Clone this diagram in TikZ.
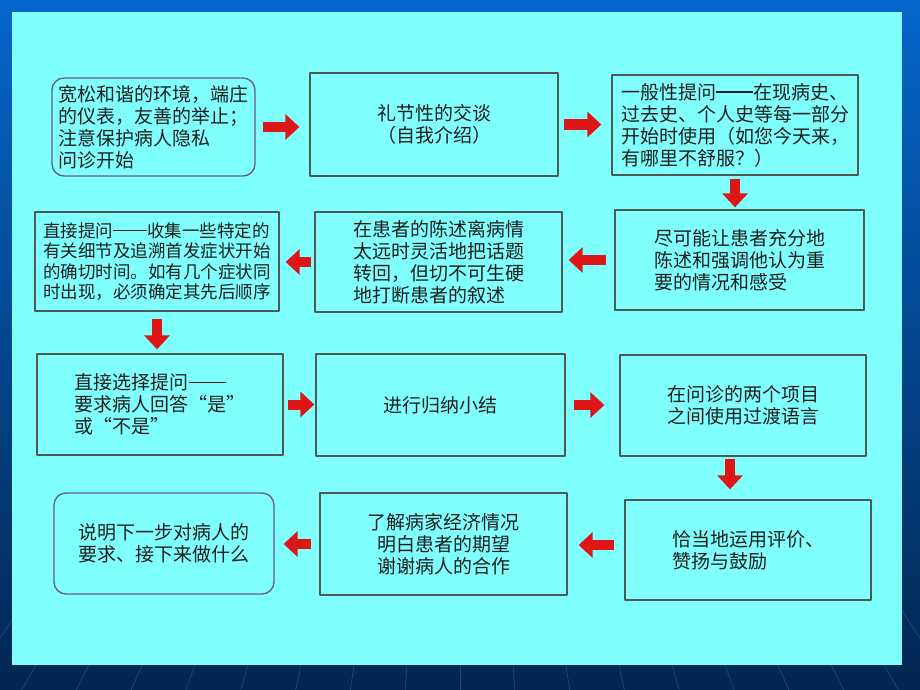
\documentclass[tikz,border=0pt]{standalone}
\usepackage{fontspec}
\setmainfont{Noto Sans CJK SC}
\usetikzlibrary{arrows.meta}

\definecolor{panel}{RGB}{128,255,255}
\definecolor{bgtop}{RGB}{6,102,204}
\definecolor{bgbot}{RGB}{2,38,80}
\definecolor{bgline}{RGB}{22,72,132}
\definecolor{arrred}{RGB}{222,22,22}
\definecolor{edge}{RGB}{78,88,84}
\definecolor{roundedge}{RGB}{104,88,150}
\definecolor{ink}{RGB}{30,30,30}

\newcommand{\twodash}{\rule[0.33em]{1.95em}{0.07em}}

\tikzset{
  box/.style={draw=edge, line width=1.3pt, fill=panel, text=ink, align=left,
    inner sep=2pt, font=\fontsize{19}{22}\selectfont},
  roundbox/.style={box, draw=roundedge, rounded corners=12pt},
  arr/.style={draw=arrred, line width=10pt,
    -{Triangle[width=25pt,length=14pt]}}
}

\begin{document}
\begin{tikzpicture}[x=1pt, y=-1pt, line join=round]
\useasboundingbox (0,0) rectangle (920,690);
\fill[top color=bgtop, bottom color=bgbot] (0,0) rectangle (920,690);
\begin{scope}
  \clip (0,600) rectangle (920,690);
  \foreach \k in {-12,...,12}
    \draw[bgline, line width=0.7pt] (460,-75) -- ({460+54.8*\k},690);
\end{scope}
\fill[panel] (12,12) rectangle (902,665);

% row 1
\node[roundbox, minimum width=203pt, minimum height=98pt] (env) at (153.5,127)
  {宽松和谐的环境，端庄\\的仪表，友善的举止；\\注意保护病人隐私\\问诊开始};
\node[box, align=center, minimum width=248pt, minimum height=103pt] (greet) at (434,124.5)
  {礼节性的交谈\\（自我介绍）};
\node[box, minimum width=246pt, minimum height=100pt] (general) at (735,125)
  {一般性提问\twodash 在现病史、\\过去史、个人史等每一部分\\开始时使用（如您今天来，\\有哪里不舒服？）};

% row 2
\node[box, minimum width=249pt, minimum height=100pt] (narrate) at (739.5,260)
  {尽可能让患者充分地\\陈述和强调他认为重\\要的情况和感受};
\node[box, minimum width=247pt, minimum height=100pt] (redirect) at (438.5,262)
  {在患者的陈述离病情\\太远时灵活地把话题\\转回，但切不可生硬\\地打断患者的叙述};
\node[box, font=\fontsize{17.5}{20.5}\selectfont, minimum width=244pt, minimum height=99pt] (direct) at (157,261.5)
  {直接提问\twodash 收集一些特定的\\有关细节及追溯首发症状开始\\的确切时间。如有几个症状同\\时出现，必须确定其先后顺序};

% row 3
\node[box, minimum width=246pt, minimum height=101pt] (choice) at (160,404.5)
  {直接选择提问\twodash\\要求病人回答“是”\\或“不是”};
\node[box, minimum width=249pt, minimum height=102pt] (summary) at (440.5,405)
  {进行归纳小结};
\node[box, minimum width=246pt, minimum height=101pt] (transit) at (743,405.5)
  {在问诊的两个项目\\之间使用过渡语言};

% row 4
\node[box, minimum width=246pt, minimum height=100pt] (praise) at (748,550)
  {恰当地运用评价、\\赞扬与鼓励};
\node[box, align=center, minimum width=247pt, minimum height=102pt] (finance) at (443.5,544)
  {了解病家经济情况\\明白患者的期望\\谢谢病人的合作};
\node[roundbox, minimum width=220pt, minimum height=101pt] (nextstep) at (164,543.5)
  {说明下一步对病人的\\要求、接下来做什么};

% arrows
\draw[arr, shorten <=7pt, shorten >=10pt] (env) -- (env -| greet.west);
\draw[arr, shorten <=5pt, shorten >=10pt] (greet) -- (greet -| general.west);
\draw[arr, shorten <=3pt, shorten >=2pt] (general) -- (general |- narrate.north);
\draw[arr, shorten <=8pt, shorten >=6pt] (narrate) -- (narrate -| redirect.east);
\draw[arr, shorten <=3pt, shorten >=6pt] (redirect) -- (redirect -| direct.east);
\draw[arr, shorten <=7pt, shorten >=4pt] (direct) -- (direct |- choice.north);
\draw[arr, shorten <=4pt, shorten >=1pt] (choice) -- (choice -| summary.west);
\draw[arr, shorten <=8pt, shorten >=15pt] (summary) -- (summary -| transit.west);
\coordinate (turn) at ([xshift=-13pt]transit.south);
\draw[arr, shorten <=2pt, shorten >=10pt] (turn) -- (turn |- praise.north);
\draw[arr, shorten <=10pt, shorten >=11pt] (praise.west |- 0,545) -- (finance.east |- 0,545);
\draw[arr, shorten <=8pt, shorten >=9pt] (finance) -- (finance -| nextstep.east);
\end{tikzpicture}
\end{document}
